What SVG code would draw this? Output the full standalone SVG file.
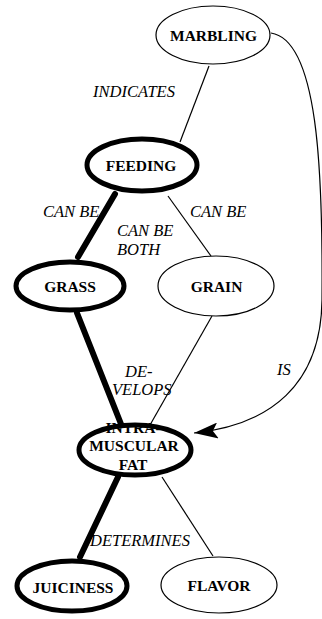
<svg xmlns="http://www.w3.org/2000/svg" width="322" height="619" viewBox="0 0 322 619">
<style>
.thin{fill:#fff;stroke:#000;stroke-width:1.2}
.thick{fill:#fff;stroke:#000;stroke-width:5}
.lbl{font-family:"Liberation Serif",serif;font-weight:bold;font-size:15.5px;text-anchor:middle;fill:#000}
.el{font-family:"Liberation Serif",serif;font-style:italic;font-size:16.5px;fill:#000}
.c{fill:none;stroke:#000;stroke-width:1.2}
.ck{fill:none;stroke:#000;stroke-width:6;stroke-linecap:round}
</style>
<defs>
<marker id="arr" markerWidth="26" markerHeight="16" refX="24" refY="8" orient="auto" markerUnits="userSpaceOnUse">
<path d="M0,0 L24,8 L0,16 L5,8 Z" fill="#000"/>
</marker>
</defs>
<rect width="322" height="619" fill="#fff"/>
<g id="connectors">
<line class="c" x1="209" y1="66" x2="180" y2="142"/>
<line class="ck" x1="115" y1="194" x2="78" y2="257"/>
<line class="c" x1="168" y1="196" x2="211" y2="256"/>
<line class="ck" x1="77" y1="313" x2="121" y2="424"/>
<line class="c" x1="212" y1="316" x2="150" y2="425"/>
<line class="ck" x1="118" y1="477" x2="80" y2="557"/>
<line class="c" x1="162" y1="477" x2="213" y2="556"/>
<path class="c" d="M271,33 C318,40 323,170 322,300 C321,385 270,425 194,433" marker-end="url(#arr)"/>
<text class="el" x="93" y="97">INDICATES</text>
<text class="el" x="43" y="217">CAN BE</text>
<text class="el" x="190" y="217">CAN BE</text>
<text class="el" x="117" y="236">CAN BE</text>
<text class="el" x="117" y="255">BOTH</text>
<text class="el" x="125" y="377">DE-</text>
<text class="el" x="112" y="395">VELOPS</text>
<text class="el" x="277" y="375">IS</text>
<text class="el" x="90" y="546">DETERMINES</text>
</g>
<g id="marbling">
<ellipse class="thin" cx="213" cy="35" rx="57" ry="29"/>
<text class="lbl" x="213.5" y="41">MARBLING</text>
</g>
<g id="feeding">
<ellipse class="thick" cx="142" cy="165" rx="55" ry="26"/>
<text class="lbl" x="141" y="171">FEEDING</text>
</g>
<g id="grass">
<ellipse class="thick" cx="70" cy="286" rx="54" ry="24"/>
<text class="lbl" x="70" y="292">GRASS</text>
</g>
<g id="grain">
<ellipse class="thin" cx="216" cy="286" rx="58" ry="30"/>
<text class="lbl" x="216.5" y="292">GRAIN</text>
</g>
<g id="intramuscular-fat">
<ellipse class="thick" cx="135" cy="450" rx="56" ry="25"/>
<text class="lbl" x="133" y="433">INTRA-</text>
<text class="lbl" x="134" y="451">MUSCULAR</text>
<text class="lbl" x="133" y="470">FAT</text>
</g>
<g id="juiciness">
<ellipse class="thick" cx="72" cy="586" rx="55" ry="25"/>
<text class="lbl" x="73" y="593">JUICINESS</text>
</g>
<g id="flavor">
<ellipse class="thin" cx="219" cy="585" rx="58" ry="28"/>
<text class="lbl" x="219" y="591">FLAVOR</text>
</g>
</svg>
